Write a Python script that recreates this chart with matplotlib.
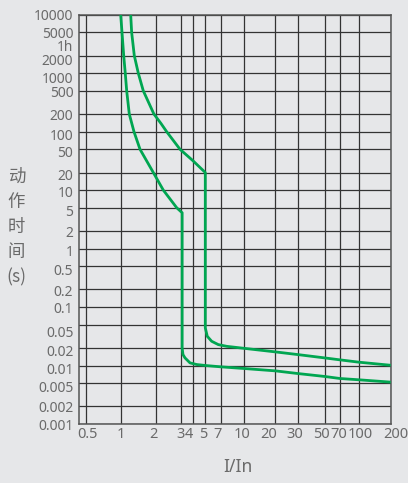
import numpy as np
import matplotlib
matplotlib.use("Agg")
import matplotlib.pyplot as plt
from matplotlib.scale import FuncScale
from matplotlib.ticker import FixedLocator, NullFormatter
from matplotlib.transforms import ScaledTranslation

# ---------------- data ----------------
x_ticks = [0.5, 1, 2, 3, 4, 5, 7, 10, 20, 30, 50, 70, 100, 200]
x_tick_labels = ["0.5", "1", "2", "3", "4", "5", "7", "10", "20", "30",
                 "50", "70", "100", "200"]

y_grid = [10000, 5000, 2000, 1000, 500, 200, 100, 50, 20, 10, 5, 2, 1,
          0.5, 0.2, 0.1, 0.05, 0.02, 0.01, 0.005, 0.002, 0.001]
y_ticks = [10000, 5000, 3600, 2000, 1000, 500, 200, 100, 50, 20, 10, 5, 2, 1,
           0.5, 0.2, 0.1, 0.05, 0.02, 0.01, 0.005, 0.002, 0.001]
y_tick_labels = ["10000", "5000", "1h", "2000", "1000", "500", "200", "100",
                 "50", "20", "10", "5", "2", "1", "0.5", "0.2", "0.1", "0.05",
                 "0.02", "0.01", "0.005", "0.002", "0.001"]

# lower boundary (left curve)
lower_x = [1.0, 1.026, 1.061, 1.094, 1.125, 1.184, 1.298, 1.461, 1.897, 2.254,
           2.805, 3.1, 3.1, 3.16, 3.32, 3.74, 4.29, 5.05, 7, 10, 20, 30, 50,
           70, 100, 200]
lower_y = [10000, 5000, 2000, 1000, 500, 200, 100, 50, 20, 10,
           5, 4.1, 0.02, 0.0154, 0.0135, 0.0111, 0.0104, 0.0100, 0.0095,
           0.0089, 0.0081, 0.0073, 0.0065, 0.0060, 0.0057, 0.0052]

# upper boundary (right curve)
upper_x = [1.217, 1.24, 1.306, 1.413, 1.558, 1.92, 2.17, 2.38, 2.96, 4.0, 5.0,
           5.0, 5.22, 5.74, 6.63, 7.67, 10, 20, 30, 50, 70, 100, 200]
upper_y = [10000, 5000, 2000, 1000, 500, 200, 138, 100, 50, 32, 20,
           0.044, 0.0316, 0.026, 0.0228, 0.0213, 0.0197, 0.0171, 0.0154,
           0.0135, 0.0125, 0.0114, 0.0101]

# ---------------- layout ----------------
W, H = 408, 483
BG = "#e6e7e9"
GREEN = "#00a651"
TXT = "#6a6a6a"
GRID = "#333333"

# hand-drawn (non uniform) logarithmic x axis: pixel position of each grid line
x_grid_px = [86, 120.7, 156, 180.8, 192.8, 205.3, 220.8, 243.9, 275.5, 297.7,
             324.7, 340, 359, 390.7]
LA = np.log10(np.array(x_ticks, float))
PA = np.array(x_grid_px, float)
s0 = (PA[1] - PA[0]) / (LA[1] - LA[0])
s1 = (PA[-1] - PA[-2]) / (LA[-1] - LA[-2])


def fwd(x):
    x = np.asarray(x, float)
    with np.errstate(divide="ignore", invalid="ignore"):
        lx = np.log10(np.where(x > 0, x, 1e-300))
    p = np.interp(lx, LA, PA)
    p = np.where(lx < LA[0], PA[0] + (lx - LA[0]) * s0, p)
    p = np.where(lx > LA[-1], PA[-1] + (lx - LA[-1]) * s1, p)
    return p


def inv(p):
    p = np.asarray(p, float)
    lx = np.interp(p, PA, LA)
    lx = np.where(p < PA[0], LA[0] + (p - PA[0]) / s0, lx)
    lx = np.where(p > PA[-1], LA[-1] + (p - PA[-1]) / s1, lx)
    return 10 ** lx


x_label_dx = [1, 0, -2.3, -0.3, -3.5, -2.3, -3, -1.6, -6.5, -2.7, -3, -1.3,
              1.7, 5]
y_label_dy = [-0.7, 0, 5.1, 4.4, 4.5, 0.9, 0, 3.1, 2.5, 1.6, 1.6, 2.3, 0.1,
              1.5, 3.2, 0.7, 0.1, 7.2, 3, 3, 3.1, 0.6, 1]

plt.rcParams["font.family"] = ["Noto Sans", "DejaVu Sans"]

fig = plt.figure(figsize=(W / 100, H / 100), dpi=100, facecolor=BG)
ax = fig.add_axes([79.3 / W, 59 / H, (390.7 - 79.3) / W, (424 - 14.7) / H])
ax.set_facecolor(BG)

ax.set_xscale(FuncScale(ax.xaxis, (fwd, inv)))
ax.set_yscale("log")
ax.set_xlim(0.4375, 200)
ax.set_ylim(0.001, 10000)

# grid lines through minor ticks, labels through major ticks
ax.xaxis.remove_overlapping_locs = False
ax.yaxis.remove_overlapping_locs = False
ax.xaxis.set_major_locator(FixedLocator(x_ticks))
ax.xaxis.set_ticklabels(x_tick_labels)
ax.xaxis.set_minor_locator(FixedLocator(x_ticks))
ax.xaxis.set_minor_formatter(NullFormatter())
ax.yaxis.set_major_locator(FixedLocator(y_ticks))
ax.yaxis.set_ticklabels(y_tick_labels)
ax.yaxis.set_minor_locator(FixedLocator(y_grid))
ax.yaxis.set_minor_formatter(NullFormatter())

ax.grid(False, which="major")
ax.grid(True, which="minor", color=GRID, linewidth=0.9)
ax.set_axisbelow(True)

ax.tick_params(which="both", length=0)
ax.tick_params(axis="y", which="major", pad=4.3, labelsize=10,
               labelcolor=TXT)
ax.tick_params(axis="x", which="major", pad=2.0, labelsize=10.5,
               labelcolor=TXT)

for lab, dx in zip(ax.get_xticklabels(), x_label_dx):
    lab.set_transform(lab.get_transform() +
                      ScaledTranslation(dx / 100, 0, fig.dpi_scale_trans))
for lab, dy in zip(ax.get_yticklabels(), y_label_dy):
    lab.set_transform(lab.get_transform() +
                      ScaledTranslation(0, -dy / 100, fig.dpi_scale_trans))

for sp in ax.spines.values():
    sp.set_color("#555555")
    sp.set_linewidth(1.1)

ax.plot(lower_x, lower_y, color=GREEN, linewidth=2.0,
        solid_joinstyle="round", solid_capstyle="butt", zorder=3)
ax.plot(upper_x, upper_y, color=GREEN, linewidth=2.0,
        solid_joinstyle="round", solid_capstyle="butt", zorder=3)

fig.text(238 / W, 1 - 467 / H, "I/In", ha="center", va="center",
         fontsize=12.5, color=TXT)
fig.text(16.3 / W, 1 - 227 / H, "动\n作\n时\n间\n(s)", ha="center",
         va="center", fontsize=12.5, color=TXT, linespacing=1.5,
         family=["Noto Sans CJK SC", "DejaVu Sans"])

fig.savefig("out.png", dpi=100, facecolor=BG)
